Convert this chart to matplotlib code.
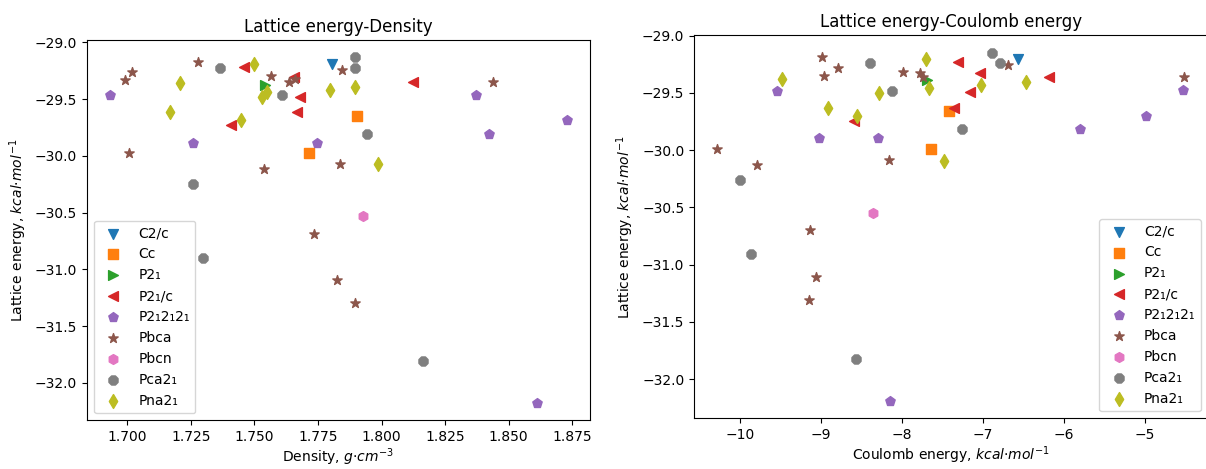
#!/usr/bin/env python3
"""Lattice energy vs density / Coulomb energy, by space group."""

import matplotlib

matplotlib.use("Agg")

import matplotlib.pyplot as plt


GROUPS = ["C2/c", "Cc", "P2₁", "P2₁/c", "P2₁2₁2₁", "Pbca", "Pbcn", "Pca2₁", "Pna2₁"]
MARKERS = ["v", "s", ">", "<", "p", "*", "h", "8", "d"]

# left panel: density (g/cm3) and lattice energy (kcal/mol)
DENSITY = [
    [1.7804],
    [1.7715, 1.7904],
    [1.7542],
    [1.7458, 1.7655, 1.7680, 1.7668, 1.7410, 1.8125],
    [1.6932, 1.7258, 1.7746, 1.8371, 1.8729, 1.8422, 1.8610],
    [1.6990, 1.7019, 1.7009, 1.7278, 1.7567, 1.7635, 1.7660, 1.7538, 1.7844, 1.8440,
     1.7835, 1.7735, 1.7825, 1.7895],
    [1.7926],
    [1.7367, 1.7258, 1.7607, 1.7895, 1.7895, 1.7944, 1.7298, 1.8163],
    [1.7209, 1.7169, 1.7498, 1.7530, 1.7548, 1.7448, 1.7798, 1.7895, 1.7985],
]
E_DENSITY = [
    [-29.19],
    [-29.974, -29.645],
    [-29.375],
    [-29.215, -29.31, -29.48, -29.616, -29.726, -29.346],
    [-29.465, -29.883, -29.887, -29.465, -29.683, -29.805, -32.176],
    [-29.334, -29.26, -29.974, -29.17, -29.30, -29.35, -29.32, -30.116, -29.247, -29.346,
     -30.072, -30.685, -31.092, -31.296],
    [-30.526],
    [-29.224, -30.244, -29.465, -29.131, -29.224, -29.805, -30.898, -31.81],
    [-29.363, -29.616, -29.195, -29.486, -29.442, -29.683, -29.418, -29.398, -30.072],
]

# right panel: Coulomb energy and lattice energy (kcal/mol)
COULOMB = [
    [-6.57],
    [-7.648, -7.422],
    [-7.689],
    [-8.59, -7.311, -7.035, -7.158, -7.364, -6.188],
    [-9.541, -9.022, -8.299, -5.80, -4.99, -4.528, -8.151],
    [-10.28, -9.796, -8.985, -8.965, -8.796, -8.167, -7.99, -7.784, -7.743, -6.694,
     -4.512, -9.133, -9.068, -9.15],
    [-8.36],
    [-10.006, -8.393, -8.121, -6.891, -6.796, -7.262, -9.867, -8.566],
    [-9.479, -8.916, -8.553, -8.29, -7.698, -7.669, -7.484, -7.022, -6.467],
]
E_COULOMB = [
    [-29.207],
    [-29.99, -29.658],
    [-29.39],
    [-29.745, -29.233, -29.323, -29.492, -29.628, -29.361],
    [-29.48, -29.896, -29.896, -29.818, -29.70, -29.477, -32.19],
    [-29.99, -30.126, -29.187, -29.349, -29.279, -30.09, -29.32, -29.326, -29.36, -29.259,
     -29.361, -30.699, -31.112, -31.31],
    [-30.548],
    [-30.26, -29.239, -29.48, -29.148, -29.236, -29.818, -30.911, -31.825],
    [-29.375, -29.632, -29.70, -29.50, -29.207, -29.46, -30.094, -29.428, -29.405],
]


def draw(ax, xs, ys, title, xlabel, legend_loc):
    for i, name in enumerate(GROUPS):
        ax.scatter(xs[i], ys[i], marker=MARKERS[i], s=50, color=f"C{i}", label=name)
    ax.set_title(title)
    ax.set_xlabel(xlabel, labelpad=2)
    ax.set_ylabel(r"Lattice energy, $kcal{\cdot}mol^{-1}$")
    ax.legend(loc=legend_loc)


def main():
    fig = plt.figure(figsize=(12.06, 4.69), dpi=100)
    ax1 = fig.add_axes([0.0721, 0.104, 0.417, 0.811])
    ax2 = fig.add_axes([0.5755, 0.108, 0.426, 0.817])

    draw(ax1, DENSITY, E_DENSITY, "Lattice energy-Density",
         r"Density, $g{\cdot}cm^{-3}$", "lower left")
    draw(ax2, COULOMB, E_COULOMB, "Lattice energy-Coulomb energy",
         r"Coulomb energy, $kcal{\cdot}mol^{-1}$", "lower right")

    fig.savefig("out.png", dpi=100)
    plt.close(fig)


if __name__ == "__main__":
    main()
